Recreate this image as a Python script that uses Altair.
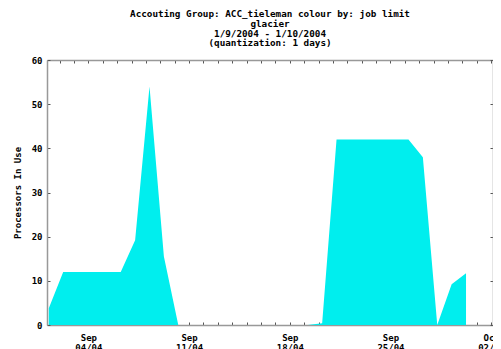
import altair as alt
import pandas as pd

# Data (one sample per day, Sep 1 .. Sep 30 2004)
days = ["2004-09-01", "2004-09-02", "2004-09-03", "2004-09-04", "2004-09-05",
        "2004-09-06", "2004-09-07", "2004-09-08", "2004-09-09", "2004-09-10",
        "2004-09-11", "2004-09-12", "2004-09-13", "2004-09-14", "2004-09-15",
        "2004-09-16", "2004-09-17", "2004-09-18", "2004-09-19", "2004-09-20",
        "2004-09-21", "2004-09-22", "2004-09-23", "2004-09-24", "2004-09-25",
        "2004-09-26", "2004-09-27", "2004-09-28", "2004-09-29", "2004-09-30"]
processors = [3.8, 12, 12, 12, 12, 12, 19.2, 54, 15.5, 0,
              0, 0, 0, 0, 0, 0, 0, 0, 0, 0.4,
              42, 42, 42, 42, 42, 42, 38, 0, 9.2, 11.7]
y_ticks = [0, 10, 20, 30, 40, 50, 60]
x_tick_days = ["2004-09-02", "2004-09-03", "2004-09-04", "2004-09-05", "2004-09-06",
               "2004-09-07", "2004-09-08", "2004-09-09", "2004-09-10", "2004-09-11",
               "2004-09-12", "2004-09-13", "2004-09-14", "2004-09-15", "2004-09-16",
               "2004-09-17", "2004-09-18", "2004-09-19", "2004-09-20", "2004-09-21",
               "2004-09-22", "2004-09-23", "2004-09-24", "2004-09-25", "2004-09-26",
               "2004-09-27", "2004-09-28", "2004-09-29", "2004-09-30", "2004-10-01",
               "2004-10-02"]
labelled_days = ["0904", "0911", "0918", "0925", "1002"]
title_lines = ["Accouting Group: ACC_tieleman colour by: job limit",
               "glacier",
               "1/9/2004 - 1/10/2004",
               "(quantization: 1 days)"]

df = pd.DataFrame({"date": [d + "T06:00:00Z" for d in days], "value": processors})

FONT = "DejaVu Sans Mono"
x_values = [alt.DateTime(year=int(d[:4]), month=int(d[5:7]), date=int(d[8:]), utc=True)
            for d in x_tick_days]
x_scale = alt.Scale(type="utc", domain=[alt.DateTime(year=2004, month=9, date=1, hours=3, utc=True),
                                        alt.DateTime(year=2004, month=10, date=2, hours=3, utc=True)],
                    nice=False)
y_scale = alt.Scale(domain=[0, 60], nice=False)

lab_set = "[" + ",".join("'%s'" % s for s in labelled_days) + "]"
label_expr = ("indexof(%s, utcFormat(datum.value, '%%m%%d')) >= 0 ? "
              "[utcFormat(datum.value, '%%b'), utcFormat(datum.value, '%%d/%%y')] : ''") % lab_set

common_axis = dict(domainColor="#999999", domainWidth=1.5, tickColor="#555555",
                   tickWidth=1, grid=False, labelFont=FONT, labelFontWeight="bold",
                   labelFontSize=9, labelColor="#000000", titleFont=FONT,
                   titleFontWeight="bold", titleFontSize=9, titleColor="#000000")

bottom_axis = alt.Axis(orient="bottom", values=x_values, labelExpr=label_expr,
                       tickSize=alt.ExprRef(expr="-3"), labelPadding=11,
                       labelOverlap=False, labelFlush=False, labelBound=False,
                       labelAlign="center", labelBaseline="top", labelLineHeight=10,
                       title=None, **common_axis)
left_axis = alt.Axis(orient="left", values=y_ticks, tickSize=alt.ExprRef(expr="-3"),
                     labelPadding=8, title="Processors In Use", titleX=-29.5,
                     titleY=132.5, titleAngle=270, titleAlign="center",
                     titleBaseline="middle", **common_axis)
top_axis = alt.Axis(orient="top", values=x_values, labels=False,
                    tickSize=alt.ExprRef(expr="-3"), title=None, **common_axis)
right_axis = alt.Axis(orient="right", values=y_ticks, labels=False,
                      tickSize=alt.ExprRef(expr="-3"), title=None, **common_axis)

area = alt.Chart(df).mark_area(color="#00eeee", opacity=1, interpolate="linear").encode(
    x=alt.X("date:T", scale=x_scale, axis=bottom_axis),
    y=alt.Y("value:Q", scale=y_scale, axis=left_axis),
)
mirror = alt.Chart(df).mark_area(opacity=0).encode(
    x=alt.X("date:T", scale=x_scale, axis=top_axis),
    y=alt.Y("value:Q", scale=y_scale, axis=right_axis),
)

chart = alt.layer(area, mirror).resolve_axis(x="independent", y="independent").properties(
    width=446, height=265,
    autosize=alt.AutoSizeParams(type="none"),
    padding={"left": 39, "top": 52, "right": 0, "bottom": 24},
    title=alt.TitleParams(text=title_lines, font=FONT, fontWeight="bold", fontSize=9.3,
                          lineHeight=9.6, anchor="middle", offset=7.5, color="#000000"),
).configure_view(stroke="#999999", strokeWidth=1.5).configure(background="white")

chart.save("out.html", embed_options={"renderer": "svg", "actions": False})
